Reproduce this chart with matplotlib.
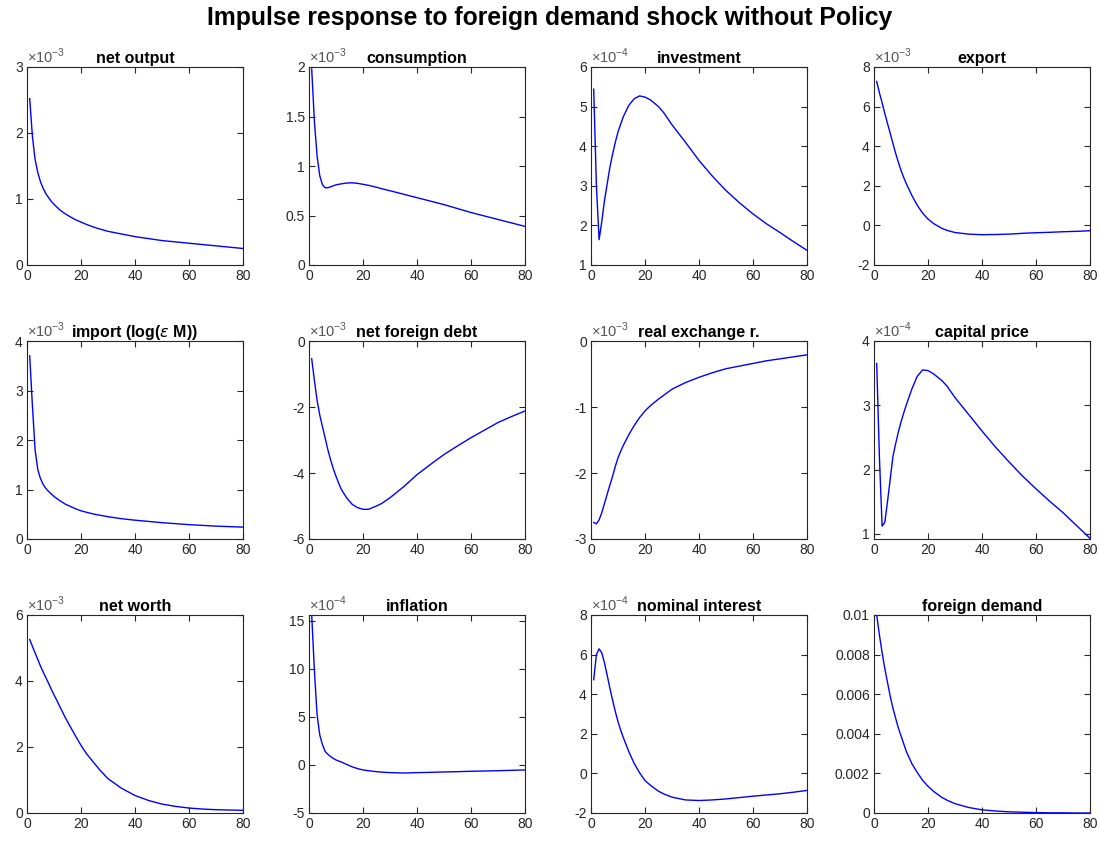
"""
Impulse response to foreign demand shock (no policy) - 3x4 panel grid.
Values read off the reference picture, in the units shown on each panel.
"""

import numpy as np
import matplotlib.pyplot as plt
from matplotlib.ticker import FuncFormatter

plt.rcParams['font.family'] = ['Liberation Sans', 'DejaVu Sans']
plt.rcParams['mathtext.fontset'] = 'custom'
plt.rcParams['mathtext.rm'] = 'Liberation Sans'

# ============================================
# 1. Data (periods and responses)
# ============================================
periods = [1, 2, 3, 4, 5, 6, 7, 8, 9, 10, 11, 12, 14, 16, 18, 20, 22, 25, 27, 30,
           35, 40, 45, 50, 55, 60, 65, 70, 75, 80]

net_output = [2.52, 1.95, 1.60, 1.40, 1.26, 1.16, 1.08, 1.02, 0.965, 0.92, 0.88, 0.84, 0.78, 0.73,
              0.685, 0.65, 0.615, 0.57, 0.545, 0.51, 0.47, 0.43, 0.40, 0.37, 0.35, 0.33, 0.31,
              0.29, 0.27, 0.25]
consumption = [1.98, 1.45, 1.10, 0.90, 0.81, 0.78, 0.78, 0.79, 0.80, 0.81, 0.815, 0.82, 0.828, 0.83,
               0.825, 0.815, 0.805, 0.785, 0.77, 0.75, 0.715, 0.68, 0.645, 0.61, 0.57, 0.53, 0.495,
               0.46, 0.425, 0.39]
investment = [5.44, 3.00, 1.64, 2.10, 2.63, 3.05, 3.47, 3.80, 4.10, 4.36, 4.56, 4.75, 5.03, 5.20,
              5.27, 5.24, 5.17, 5.00, 4.84, 4.54, 4.10, 3.64, 3.24, 2.88, 2.57, 2.29, 2.04, 1.82,
              1.59, 1.37]
export = [7.27, 6.70, 6.20, 5.65, 5.15, 4.65, 4.15, 3.65, 3.20, 2.78, 2.42, 2.10, 1.52, 1.02,
          0.62, 0.32, 0.10, -0.14, -0.25, -0.36, -0.44, -0.47, -0.46, -0.44, -0.40, -0.37, -0.35,
          -0.32, -0.30, -0.27]
imports = [3.70, 2.70, 1.80, 1.40, 1.22, 1.10, 1.02, 0.96, 0.91, 0.86, 0.82, 0.78, 0.71, 0.66,
           0.61, 0.57, 0.54, 0.50, 0.48, 0.45, 0.41, 0.38, 0.355, 0.33, 0.31, 0.29, 0.275, 0.26,
           0.25, 0.24]
net_foreign_debt = [-0.54, -1.20, -1.80, -2.25, -2.60, -2.95, -3.30, -3.60, -3.87, -4.10, -4.31,
                    -4.50, -4.76, -4.95, -5.05, -5.10, -5.10, -5.00, -4.92, -4.75, -4.42, -4.05,
                    -3.74, -3.44, -3.18, -2.93, -2.70, -2.47, -2.29, -2.12]
real_exchange = [-2.75, -2.77, -2.71, -2.60, -2.46, -2.32, -2.18, -2.05, -1.90, -1.77, -1.67, -1.58,
                 -1.42, -1.28, -1.16, -1.06, -0.98, -0.88, -0.82, -0.73, -0.63, -0.55, -0.48, -0.42,
                 -0.38, -0.34, -0.30, -0.27, -0.24, -0.21]
capital_price = [3.65, 2.20, 1.12, 1.18, 1.50, 1.85, 2.20, 2.40, 2.58, 2.74, 2.88, 3.01, 3.25, 3.45,
                 3.55, 3.54, 3.49, 3.39, 3.30, 3.12, 2.86, 2.60, 2.35, 2.12, 1.90, 1.70, 1.51, 1.33,
                 1.13, 0.93]
net_worth = [5.26, 5.05, 4.85, 4.65, 4.45, 4.27, 4.10, 3.93, 3.75, 3.58, 3.42, 3.25, 2.92, 2.62,
             2.33, 2.05, 1.80, 1.50, 1.30, 1.04, 0.75, 0.53, 0.38, 0.27, 0.20, 0.15, 0.12, 0.10,
             0.09, 0.08]
inflation = [15.6, 9.8, 5.2, 3.1, 2.1, 1.4, 1.1, 0.87, 0.68, 0.52, 0.40, 0.30, 0.05, -0.20, -0.38,
             -0.52, -0.60, -0.70, -0.75, -0.80, -0.84, -0.80, -0.77, -0.73, -0.70, -0.66, -0.63,
             -0.60, -0.56, -0.52]
nominal_interest = [4.73, 6.00, 6.29, 6.08, 5.58, 4.95, 4.30, 3.70, 3.13, 2.61, 2.18, 1.80, 1.10,
                    0.50, 0.03, -0.36, -0.60, -0.90, -1.04, -1.20, -1.34, -1.37, -1.34, -1.29,
                    -1.22, -1.15, -1.09, -1.03, -0.95, -0.86]
foreign_demand = [0.0100, 0.0090, 0.0081, 0.0073, 0.0066, 0.0059, 0.0053, 0.0048, 0.0043, 0.0039,
                  0.0035, 0.0031, 0.0025, 0.00205, 0.00165, 0.00135, 0.0011, 0.0008, 0.00065,
                  0.00047, 0.00028, 0.00016, 0.0001, 0.00006, 0.00004, 0.00002, 0.00001,
                  0.00001, 0.0, 0.0]

titles = ['net output', 'consumption', 'investment', 'export',
          r'import (log($\epsilon$ M))', 'net foreign debt', 'real exchange r.', 'capital price',
          'net worth', 'inflation', 'nominal interest', 'foreign demand']
series = [net_output, consumption, investment, export,
          imports, net_foreign_debt, real_exchange, capital_price,
          net_worth, inflation, nominal_interest, foreign_demand]
exponents = [-3, -3, -4, -3, -3, -3, -3, -4, -3, -4, -4, None]
ylims = [(0, 3), (0, 2), (1, 6), (-2, 8), (0, 4), (-6, 0), (-3, 0), (0.92, 4),
         (0, 6), (-5, 15.6), (-2, 8), (0, 0.01)]
yticks = [[0, 1, 2, 3], [0, 0.5, 1, 1.5, 2], [1, 2, 3, 4, 5, 6], [-2, 0, 2, 4, 6, 8],
          [0, 1, 2, 3, 4], [-6, -4, -2, 0], [-3, -2, -1, 0], [1, 2, 3, 4],
          [0, 2, 4, 6], [-5, 0, 5, 10, 15], [-2, 0, 2, 4, 6, 8],
          [0, 0.002, 0.004, 0.006, 0.008, 0.01]]

# ============================================
# 2. Layout (MATLAB-like subplot positions)
# ============================================
W, H = 1099, 841
fig = plt.figure(figsize=(W / 100, H / 100), dpi=100)
col_left = [27, 309, 591, 874]
row_top = [67, 341, 615]
ax_w, ax_h = 216, 198

TXT = '#262626'


def fmt(v, pos):
    return f'{v:g}'


for k in range(12):
    r, c = divmod(k, 4)
    ax = fig.add_axes([col_left[c] / W, 1 - (row_top[r] + ax_h) / H, ax_w / W, ax_h / H])
    ax.plot(periods, series[k], color='#0000ff', linewidth=1.0)
    ax.set_xlim(0, 80)
    ax.set_ylim(*ylims[k])
    ax.set_xticks([0, 20, 40, 60, 80])
    ax.set_yticks(yticks[k])
    ax.yaxis.set_major_formatter(FuncFormatter(fmt))
    ax.tick_params(direction='in', length=4, width=0.8, top=True, right=True,
                   labelsize=10, colors=TXT, pad=3)
    for sp in ax.spines.values():
        sp.set_color(TXT)
        sp.set_linewidth(0.8)
    ax.set_title(titles[k], fontsize=11.5, fontweight='bold', color='black', pad=3)
    if exponents[k] is not None:
        ax.text(0.0, 1.005, r'$\times 10^{%d}$' % exponents[k], transform=ax.transAxes,
                fontsize=10.5, color='#555555', ha='left', va='bottom')

fig.suptitle('Impulse response to foreign demand shock without Policy',
             fontsize=17.8, fontweight='bold', y=1 - 18 / H, va='center')

plt.savefig('out.png', dpi=100)
